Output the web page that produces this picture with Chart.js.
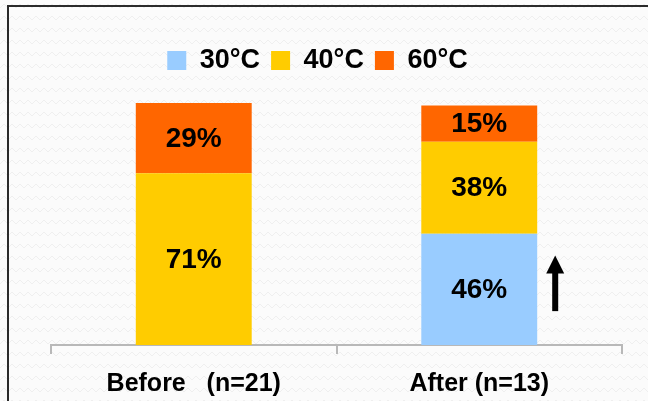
<!DOCTYPE html>
<html>
<head>
<meta charset="utf-8">
<script src="https://cdn.jsdelivr.net/npm/chart.js@4"></script>
<style>
  html, body { margin: 0; padding: 0; background: #fafafa; }
  #wrap { width: 648px; height: 401px; }
</style>
</head>
<body>
<div id="wrap"><canvas id="c" width="648" height="401"></canvas></div>
<script>
// ---- data ----
const categories = ['Before   (n=21)', 'After (n=13)'];
const seriesNames = ['30°C', '40°C', '60°C'];
const values30 = [0, 46];
const values40 = [71, 38];
const values60 = [29, 15];
const seriesColors = ['#99CCFF', '#FFCC00', '#FF6600'];
const arrowRange = [14, 37]; // % values spanned by the up-arrow beside the "After" bar

const FONT = "'Liberation Sans', Arial, Helvetica, sans-serif";

// background + frame
const framePlugin = {
  id: 'frame',
  beforeDraw(chart) {
    const ctx = chart.ctx;
    const w = chart.width, h = chart.height;
    ctx.save();
    ctx.fillStyle = '#fbfbfb';
    ctx.fillRect(0, 0, w, h);
    // faint zigzag texture
    const pc = document.createElement('canvas');
    pc.width = 8; pc.height = 12;
    const p = pc.getContext('2d');
    p.fillStyle = '#fbfbfb';
    p.fillRect(0, 0, 8, 12);
    p.strokeStyle = '#efefef';
    p.lineWidth = 1;
    p.beginPath();
    p.moveTo(0, 8); p.lineTo(4, 4); p.lineTo(8, 8);
    p.stroke();
    ctx.fillStyle = ctx.createPattern(pc, 'repeat');
    ctx.fillRect(0, 0, w, h);
    // frame
    ctx.strokeStyle = '#2a2a2a';
    ctx.lineWidth = 2;
    ctx.beginPath();
    ctx.moveTo(w + 2, 6);
    ctx.lineTo(8, 6);
    ctx.lineTo(8, h + 2);
    ctx.stroke();
    ctx.restore();
  }
};

// value labels centred in each segment
const labelPlugin = {
  id: 'segLabels',
  afterDatasetsDraw(chart) {
    const ctx = chart.ctx;
    ctx.save();
    ctx.font = 'bold 28px ' + FONT;
    ctx.fillStyle = '#000';
    ctx.textAlign = 'center';
    ctx.textBaseline = 'middle';
    chart.data.datasets.forEach((ds, di) => {
      const meta = chart.getDatasetMeta(di);
      meta.data.forEach((el, i) => {
        const v = ds.data[i];
        if (!v) return;
        const props = el.getProps(['x', 'y', 'base'], true);
        ctx.fillText(v + '%', props.x, (props.y + props.base) / 2 + 1);
      });
    });
    ctx.restore();
  }
};

// up arrow beside the "After" bar
const arrowPlugin = {
  id: 'arrow',
  afterDatasetsDraw(chart) {
    const ctx = chart.ctx;
    const meta = chart.getDatasetMeta(0);
    const el = meta.data[1];
    const props = el.getProps(['x', 'width'], true);
    const yS = chart.scales.y;
    const x = props.x + props.width / 2 + 18;
    const yb = yS.getPixelForValue(arrowRange[0]);
    const yt = yS.getPixelForValue(arrowRange[1]);
    const headH = 18, headW = 18, shaft = 6;
    ctx.save();
    ctx.fillStyle = '#000';
    ctx.fillRect(x - shaft / 2, yt + headH - 1, shaft, yb - yt - headH + 1);
    ctx.beginPath();
    ctx.moveTo(x, yt);
    ctx.lineTo(x + headW / 2, yt + headH);
    ctx.lineTo(x - headW / 2, yt + headH);
    ctx.closePath();
    ctx.fill();
    ctx.restore();
  }
};

const valueSets = [values30, values40, values60];
const datasets = seriesNames.map((name, i) => ({
  label: name,
  data: valueSets[i],
  backgroundColor: seriesColors[i],
  borderWidth: 0,
  barPercentage: 0.406,
  categoryPercentage: 1.0
}));

new Chart(document.getElementById('c'), {
  type: 'bar',
  data: { labels: categories, datasets },
  options: {
    responsive: false,
    animation: false,
    devicePixelRatio: 1,
    layout: { padding: { top: 36, left: 13, right: 26, bottom: 3 } },
    plugins: {
      legend: {
        display: true,
        position: 'top',
        labels: {
          boxWidth: 19,
          boxHeight: 19,
          padding: 11,
          color: '#000',
          font: { family: FONT, size: 27, weight: 'bold' }
        }
      },
      title: { display: false },
      tooltip: { enabled: false }
    },
    scales: {
      x: {
        stacked: true,
        position: 'bottom',
        grid: {
          display: true,
          drawOnChartArea: false,
          drawTicks: true,
          tickLength: 9,
          offset: true,
          color: '#b8b8b8',
          lineWidth: 2
        },
        border: { display: true, color: '#b8b8b8', width: 2 },
        ticks: {
          color: '#000',
          padding: 15,
          maxRotation: 0,
          font: { family: FONT, size: 25, weight: 'bold' }
        },
        afterFit(s) { s.height = 53; }
      },
      x2: {
        type: 'category',
        position: 'top',
        display: true,
        grid: { display: false },
        border: { display: false },
        ticks: { display: false },
        afterFit(s) { s.height = 19; }
      },
      y: {
        stacked: true,
        min: 0,
        max: 100,
        display: true,
        grid: { display: false },
        border: { display: false },
        ticks: { display: false },
        afterFit(s) { s.width = 38; }
      }
    }
  },
  plugins: [framePlugin, labelPlugin, arrowPlugin]
});
</script>
</body>
</html>
